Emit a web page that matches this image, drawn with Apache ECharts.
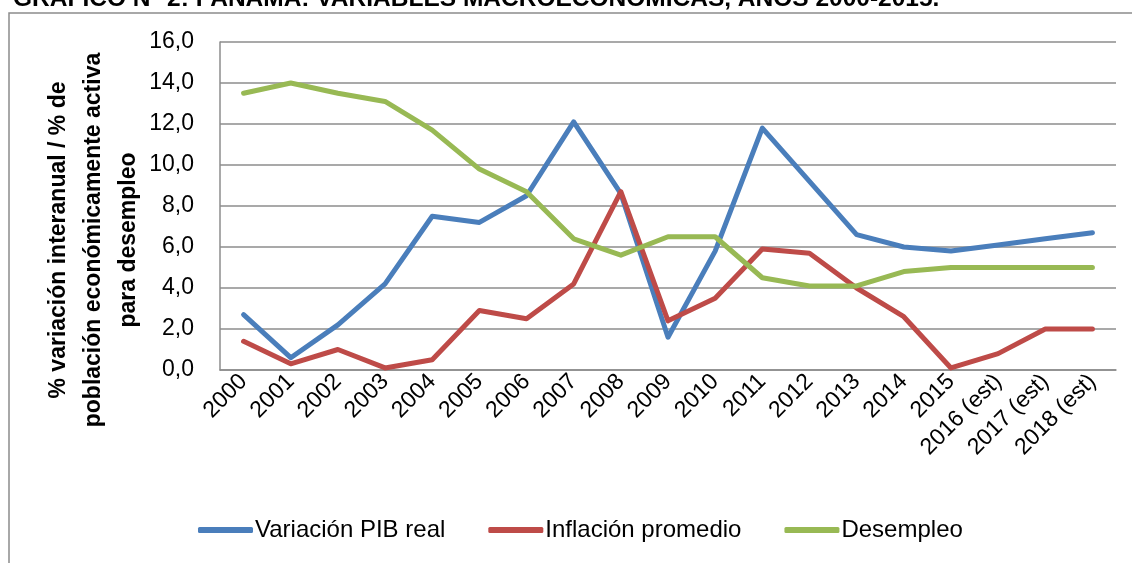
<!DOCTYPE html>
<html>
<head>
<meta charset="utf-8">
<title>Panamá: variables macroeconómicas</title>
<script src="https://cdn.jsdelivr.net/npm/echarts@6/dist/echarts.min.js"></script>
<style>
  html, body { margin: 0; padding: 0; background: #fff; }
  #chart { width: 1132px; height: 563px; }
</style>
</head>
<body>
<div id="chart"></div>
<script>
// categorias (años)
const years = ["2000", "2001", "2002", "2003", "2004", "2005", "2006", "2007", "2008", "2009",
  "2010", "2011", "2012", "2013", "2014", "2015", "2016 (est)", "2017 (est)", "2018 (est)"];

// series
const pibReal = [2.7, 0.6, 2.2, 4.2, 7.5, 7.2, 8.5, 12.1, 8.6, 1.6, 5.8, 11.8, 9.2, 6.6, 6.0, 5.8, 6.1, 6.4, 6.7];
const inflacion = [1.4, 0.3, 1.0, 0.1, 0.5, 2.9, 2.5, 4.2, 8.7, 2.4, 3.5, 5.9, 5.7, 4.0, 2.6, 0.1, 0.8, 2.0, 2.0];
const desempleo = [13.5, 14.0, 13.5, 13.1, 11.7, 9.8, 8.7, 6.4, 5.6, 6.5, 6.5, 4.5, 4.1, 4.1, 4.8, 5.0, 5.0, 5.0, 5.0];

const seriesNames = ["Variación PIB real", "Inflación promedio", "Desempleo"];
const yTicks = [0, 2, 4, 6, 8, 10, 12, 14, 16];

const titulo = "GRÁFICO N° 2: PANAMÁ: VARIABLES MACROECONÓMICAS, AÑOS 2000-2015.";
const ejeY = "% variación interanual / % de\npoblación económicamente activa\npara desempleo";

const font = "'Liberation Sans', Arial, sans-serif";
const gridColor = "#8c8c8c";

const chart = echarts.init(document.getElementById("chart"));

chart.setOption({
  animation: false,
  color: ["#4A7EBB", "#BE4B48", "#98B954"],
  textStyle: { fontFamily: font },
  grid: { left: 220, right: 16, top: 42, bottom: 193 },
  graphic: [
    {
      type: "rect",
      shape: { x: 9, y: 13, width: 1200, height: 600 },
      style: { fill: "none", stroke: gridColor, lineWidth: 1.5 },
      silent: true
    },
    {
      type: "text",
      x: 13,
      y: 12,
      style: {
        text: titulo,
        font: "bold 24.5px " + font,
        fill: "#000",
        textVerticalAlign: "bottom"
      }
    },
    {
      type: "text",
      x: 94,
      y: 240,
      rotation: Math.PI / 2,
      style: {
        text: ejeY,
        font: "bold 23px " + font,
        fill: "#000",
        textAlign: "center",
        textVerticalAlign: "middle",
        lineHeight: 35
      }
    }
  ],
  legend: {
    data: seriesNames,
    bottom: 16,
    left: 193,
    icon: "roundRect",
    itemWidth: 55,
    itemHeight: 6,
    itemGap: 43,
    textStyle: { fontSize: 24, color: "#000", padding: [0, 0, 0, -3] }
  },
  xAxis: {
    type: "category",
    data: years,
    boundaryGap: true,
    axisLine: { lineStyle: { color: gridColor, width: 1.5 } },
    axisTick: { show: false },
    axisLabel: {
      interval: 0,
      rotate: 45,
      margin: 8,
      fontSize: 23,
      color: "#000"
    }
  },
  yAxis: {
    type: "value",
    min: yTicks[0],
    max: yTicks[yTicks.length - 1],
    interval: 2,
    axisLine: { show: true, lineStyle: { color: gridColor, width: 1.5 } },
    axisTick: { show: false },
    splitLine: { lineStyle: { color: gridColor, width: 1.5 } },
    axisLabel: {
      margin: 26,
      fontSize: 23,
      color: "#000",
      formatter: function (v) { return v.toFixed(1).replace(".", ","); }
    }
  },
  series: [
    { name: seriesNames[0], type: "line", data: pibReal, symbol: "none", lineStyle: { width: 5, cap: "round", join: "round" } },
    { name: seriesNames[1], type: "line", data: inflacion, symbol: "none", lineStyle: { width: 5, cap: "round", join: "round" } },
    { name: seriesNames[2], type: "line", data: desempleo, symbol: "none", lineStyle: { width: 5, cap: "round", join: "round" } }
  ]
});
</script>
</body>
</html>
